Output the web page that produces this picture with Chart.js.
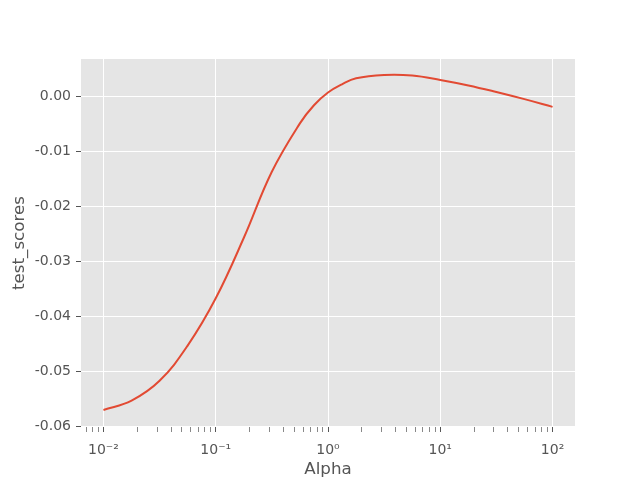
<!DOCTYPE html>
<html>
<head>
<meta charset="utf-8">
<script src="https://cdn.jsdelivr.net/npm/chart.js@4/dist/chart.umd.min.js"></script>
<style>
  body { margin: 0; background: #fff; }
  canvas { display: block; }
</style>
</head>
<body>
<canvas id="myChart" width="640" height="480"></canvas>
<script>
const alphas = [0.01, 0.0178, 0.0316, 0.0562, 0.1, 0.178, 0.316, 0.562, 0.75, 1, 1.33, 1.78, 3.16, 5.62, 10, 17.8, 31.6, 56.2, 100];
const testScores = [-0.0570, -0.0553, -0.0517, -0.0453, -0.0367, -0.0257, -0.0137, -0.0049, -0.0016, 0.0007, 0.0022, 0.0033, 0.0039, 0.0038, 0.0030, 0.0020, 0.0008, -0.0005, -0.0019];
const yTicks = [-0.06, -0.05, -0.04, -0.03, -0.02, -0.01, 0.0];
const supers = { "-": "\u207B", "0": "\u2070", "1": "\u00B9", "2": "\u00B2" };

const isMajor = (v) => Math.abs(Math.log10(v) - Math.round(Math.log10(v))) < 1e-9;

// grey panel behind the plot, like ggplot
const plotBg = {
  id: "plotBg",
  beforeDraw(chart) {
    const { ctx, chartArea: a } = chart;
    ctx.save();
    ctx.fillStyle = "#E5E5E5";
    ctx.fillRect(a.left, a.top, a.right - a.left, a.bottom - a.top);
    ctx.restore();
  },
};

const data = {
  datasets: [
    {
      label: "test_scores",
      data: alphas.map((a, i) => ({ x: a, y: testScores[i] })),
      borderColor: "#E24A33",
      borderWidth: 2,
      pointRadius: 0,
      tension: 0.4,
      fill: false,
    },
  ],
};

const config = {
  type: "line",
  data,
  plugins: [plotBg],
  options: {
    responsive: false,
    animation: false,
    layout: { padding: { left: 0, top: 59, right: 65, bottom: 0 } },
    plugins: { legend: { display: false }, tooltip: { enabled: false } },
    scales: {
      x: {
        type: "logarithmic",
        min: Math.pow(10, -2.2),
        max: Math.pow(10, 2.2),
        border: { display: false },
        afterBuildTicks(scale) {
          const t = [];
          for (let d = -3; d <= 2; d++) {
            for (let m = 1; m <= 9; m++) {
              const v = m * Math.pow(10, d);
              if (v >= scale.min && v <= scale.max) t.push({ value: v });
            }
          }
          scale.ticks = t;
        },
        afterFit(scale) { scale.height = 53; },
        grid: {
          color: (c) => (c.tick && isMajor(c.tick.value) ? "#FFFFFF" : "rgba(0,0,0,0)"),
          lineWidth: 1,
          tickColor: "#555555",
          tickWidth: (c) => (c.tick && isMajor(c.tick.value) ? 1 : 0.7),
          tickLength: 5,
        },
        ticks: {
          autoSkip: false,
          maxRotation: 0,
          padding: 10,
          color: "#555555",
          font: { family: "DejaVu Sans", size: 14 },
          callback: (v) => {
            if (!isMajor(v)) return "";
            const e = String(Math.round(Math.log10(v)));
            return "10" + e.split("").map((ch) => supers[ch]).join("");
          },
        },
        title: {
          display: true,
          text: "Alpha",
          color: "#555555",
          font: { family: "DejaVu Sans", size: 16.7 },
          padding: { top: 0, bottom: 0 },
        },
      },
      y: {
        min: -0.0601,
        max: 0.0068,
        border: { display: false },
        afterBuildTicks(scale) {
          scale.ticks = yTicks.map((v) => ({ value: v }));
        },
        afterFit(scale) { scale.width = 81; },
        grid: {
          color: "#FFFFFF",
          lineWidth: 1,
          tickColor: "#555555",
          tickLength: 5,
        },
        ticks: {
          padding: 5,
          color: "#555555",
          font: { family: "DejaVu Sans", size: 14 },
          callback: (v) => v.toFixed(2),
        },
        title: {
          display: true,
          text: "test_scores",
          color: "#555555",
          font: { family: "DejaVu Sans", size: 16.7 },
          padding: { top: 10, bottom: 0 },
        },
      },
    },
  },
};

const myChart = new Chart(document.getElementById("myChart"), config);
</script>
</body>
</html>
